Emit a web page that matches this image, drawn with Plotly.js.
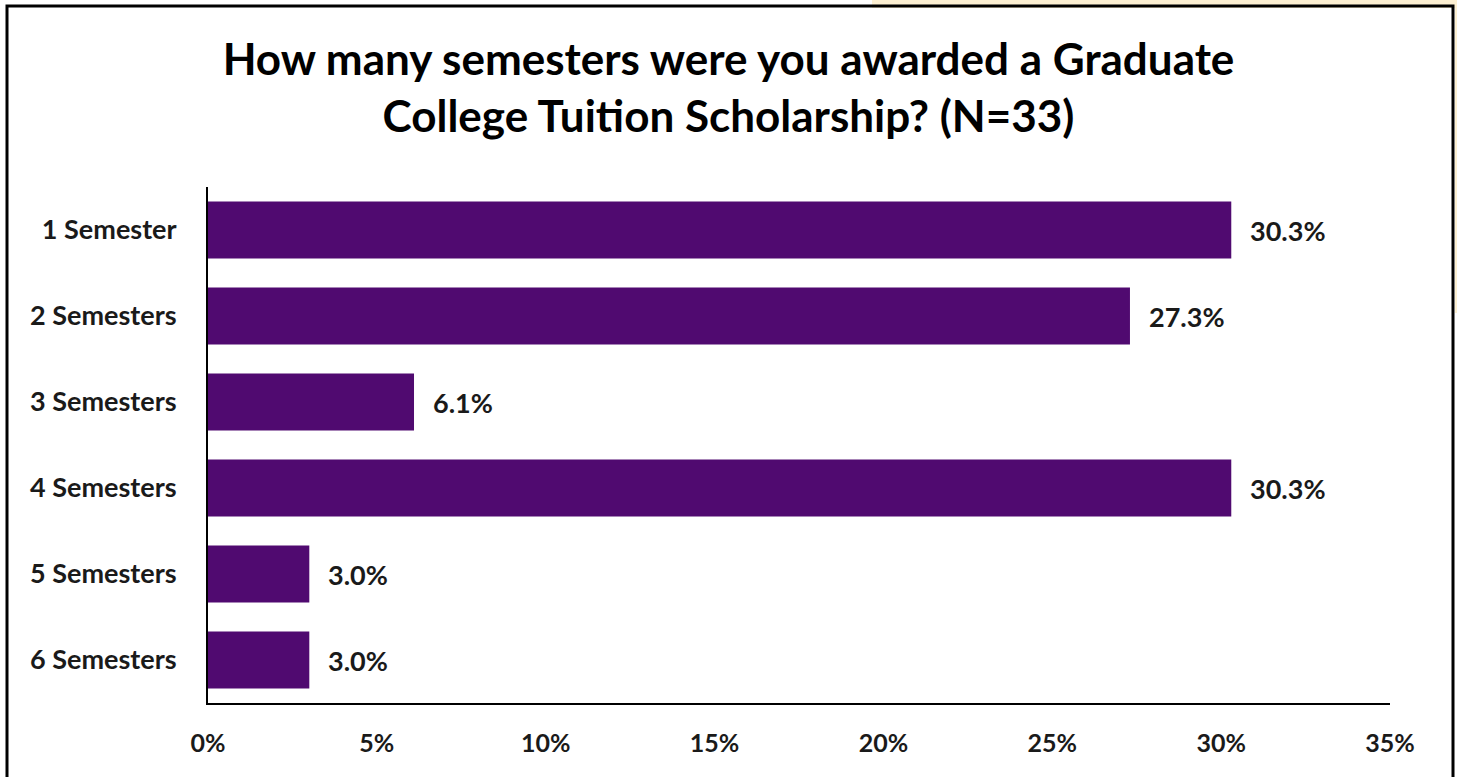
<!DOCTYPE html>
<html>
<head>
<meta charset="utf-8">
<script src="https://cdn.plot.ly/plotly-3.0.1.min.js"></script>
<style>
html,body{margin:0;padding:0;background:#fff;}
#chart{width:1457px;height:777px;}
</style>
</head>
<body>
<div id="chart"></div>
<script>
var categories = ["1 Semester", "2 Semesters", "3 Semesters", "4 Semesters", "5 Semesters", "6 Semesters"];
var percentages = [30.3, 27.3, 6.1, 30.3, 3.0, 3.0];
var xTickValues = [0, 5, 10, 15, 20, 25, 30, 35];
var xTickLabels = ["0%", "5%", "10%", "15%", "20%", "25%", "30%", "35%"];
var titleText = "How many semesters were you awarded a Graduate<br>College Tuition Scholarship? (N=33)";

var FONT = "Lato, 'Open Sans', sans-serif";

var trace = {
  type: "bar",
  orientation: "h",
  y: categories,
  x: percentages,
  marker: {color: "#500a70", line: {width: 0}},
  hoverinfo: "skip"
};

var annotations = categories.map(function (c, i) {
  return {
    x: percentages[i], y: c, xref: "x", yref: "y",
    text: percentages[i].toFixed(1) + "%",
    showarrow: false, xanchor: "left", xshift: 17,
    font: {family: FONT, size: 27, color: "#1a1a1a", weight: "bold"}
  };
});

var layout = {
  width: 1457, height: 777,
  paper_bgcolor: "#ffffff", plot_bgcolor: "#ffffff",
  margin: {l: 208, r: 67, t: 187, b: 74},
  bargap: 0.34,
  showlegend: false,
  title: {
    text: titleText,
    xref: "container", x: 0.5, xanchor: "center",
    yref: "container", y: 1 - 75 / 777, yanchor: "middle",
    font: {family: FONT, size: 44, color: "#000000", weight: "bold"}
  },
  xaxis: {
    range: [0, 35],
    tickvals: xTickValues, ticktext: xTickLabels,
    showgrid: false, zeroline: false,
    showline: true, linecolor: "#000000", linewidth: 2,
    ticks: "", ticklabelstandoff: 17,
    tickfont: {family: FONT, size: 25, color: "#1a1a1a", weight: "bold"},
    fixedrange: true
  },
  yaxis: {
    autorange: "reversed",
    type: "category",
    showgrid: false, zeroline: false,
    showline: true, linecolor: "#000000", linewidth: 2,
    ticks: "", ticklabelstandoff: 24,
    tickfont: {family: FONT, size: 27, color: "#1a1a1a", weight: "bold"},
    fixedrange: true
  },
  annotations: annotations,
  shapes: [
    {type: "path", xsizemode: "pixel", ysizemode: "pixel", xref: "paper", yref: "paper",
     xanchor: 0, yanchor: 1, layer: "below",
     path: "M 664 187 L 1249 187 L 1249 -126 L 1247 -126 L 1247 179 L 664 179 Z",
     fillcolor: "#fdf0d2", line: {width: 0}},
    {type: "path", xsizemode: "pixel", ysizemode: "pixel", xref: "paper", yref: "paper",
     xanchor: 0, yanchor: 1, layer: "above",
     path: "M -201 -700 L -201 181 L 1245 181 L 1245 -700",
     line: {color: "#000000", width: 3}}
  ]
};

Plotly.newPlot("chart", [trace], layout, {displayModeBar: false, staticPlot: true});
</script>
</body>
</html>
